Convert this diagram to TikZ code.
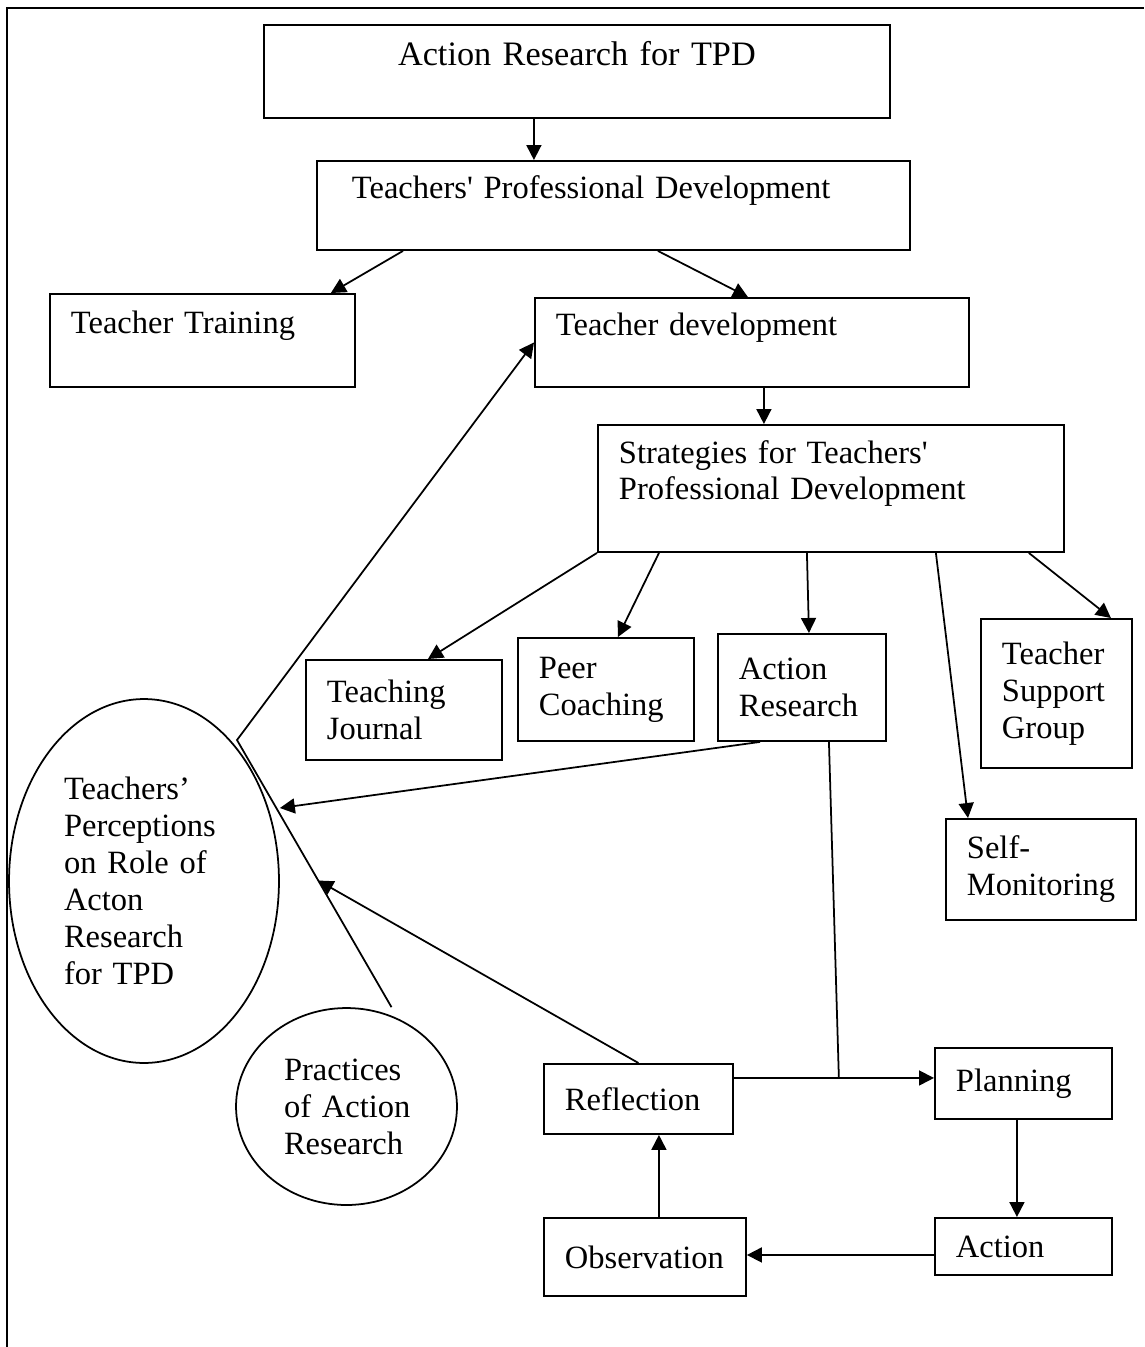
\documentclass[tikz,border=0pt]{standalone}
\usepackage{fontspec}
\setmainfont{Liberation Serif}
\usepackage{tikz}
\usetikzlibrary{arrows.meta,positioning,calc,shapes.geometric}
\newcommand{\bodyfont}{\fontsize{18.5}{21}\selectfont}
\newcommand{\ttlfont}{\fontsize{19.5}{21}\selectfont}
\hyphenpenalty=10000

\begin{document}
\begin{tikzpicture}[
    x=0.02cm,y=-0.02cm,
    font=\bodyfont,
    bx/.style={draw,line width=1.1pt,anchor=north west,align=left,
               inner xsep=0.42cm,inner ysep=0pt},
    ell/.style={draw,ellipse,line width=1pt,align=left,inner sep=0pt},
    arr/.style={-{Triangle[length=0.3cm,width=0.3cm]},line width=1pt},
    ln/.style={line width=1pt}
  ]
    \useasboundingbox (0,0) rectangle (1144,1347);
    \draw[ln] (7,1347) -- (7,8) -- (1144,8);

    % Top of the hierarchy
    \node[bx,align=center,text width=11.68cm,minimum height=1.86cm,font=\ttlfont]
      (artpd) at (263,24) {Action Research for TPD\\\mbox{}};
    \node[bx,inner xsep=0.7cm,text width=10.46cm,minimum height=1.78cm]
      (tpd) at (316,160) {Teachers\textquotesingle{} Professional Development\\\mbox{}};
    \node[bx,text width=5.26cm,minimum height=1.86cm]
      (tt) at (49,293) {Teacher Training\\\mbox{}};
    \node[bx,text width=7.84cm,minimum height=1.78cm]
      (td) at (534,297) {Teacher development\\\mbox{}};
    \node[bx,text width=8.48cm,minimum height=2.54cm]
      (strat) at (597,424) {Strategies for Teachers\textquotesingle\\Professional Development\\\mbox{}};

    % Strategies
    \node[bx,text width=3.08cm,minimum height=2cm]
      (tj) at (305,659) {Teaching\\Journal};
    \node[bx,text width=2.68cm,minimum height=2.06cm]
      (pc) at (517,637) {Peer\\Coaching};
    \node[bx,text width=2.52cm,minimum height=2.14cm]
      (ar) at (717,633) {Action\\Research};
    \node[bx,text width=2.18cm,minimum height=2.98cm]
      (tsg) at (980,618) {Teacher\\Support\\Group};
    \node[bx,text width=2.96cm,minimum height=2.02cm]
      (sm) at (945,818) {Self-\\Monitoring};

    % Ellipses
    \node[ell,minimum width=5.4cm,minimum height=7.28cm,text width=3.2cm]
      (pe) at (144,881) {Teachers'\\Perceptions\\on Role of\\Acton\\Research\\for TPD};
    \node[ell,minimum width=4.42cm,minimum height=3.94cm,text width=2.5cm]
      (prac) at (346.5,1106.5) {Practices\\\mbox{of Action}\\Research};

    % Action research cycle
    \node[bx,text width=2.94cm,minimum height=1.4cm]
      (refl) at (543,1063) {Reflection};
    \node[bx,text width=2.7cm,minimum height=1.42cm]
      (plan) at (934,1047) {Planning};
    \node[bx,text width=3.2cm,minimum height=1.56cm]
      (obs) at (543,1217) {Observation};
    \node[bx,text width=2.7cm,minimum height=1.14cm]
      (act) at (934,1217) {Action};

    % Arrows
    \draw[arr] ([xshift=-0.86cm]artpd.south) -- ([xshift=-0.86cm]artpd.south |- tpd.north);
    \draw[arr] ([xshift=1.74cm]tpd.south west) -- ([xshift=-0.5cm]tt.north east);
    \draw[arr] ([xshift=0.89cm]tpd.south) -- ([xshift=-0.08cm]td.north);
    \draw[arr] ([xshift=0.24cm]td.south) -- ([xshift=0.24cm]td.south |- strat.north);
    \draw[arr] (strat.south west) -- ([xshift=0.48cm]tj.north);
    \draw[arr] ([xshift=1.24cm]strat.south west) -- ([xshift=0.24cm]pc.north);
    \draw[arr] ([xshift=-0.48cm]strat.south) -- ([xshift=0.14cm]ar.north);
    \draw[arr] ([xshift=2.1cm]strat.south) -- ([xshift=0.46cm]sm.north west);
    \draw[arr] ([xshift=-0.72cm]strat.south east) -- ([xshift=-0.44cm]tsg.north east);
    \draw[arr] ([xshift=0.86cm]ar.south west) -- ([yshift=1.46cm]pe.east);

    % Practices feeding teacher development
    \coordinate (prtop) at ([xshift=0.9cm]prac.north);
    \coordinate (kink) at (237,740);
    \draw[arr] (prtop) -- (kink) -- (td.west);
    \draw[arr] (refl.north) -- ($(prtop)!0.474!(kink)$);

    % Cycle
    \coordinate (rp) at ([yshift=0.42cm]refl.east);
    \draw[arr] (rp) -- (rp -| plan.west);
    \draw[ln] ([xshift=0.54cm]ar.south) -- ([xshift=2.1cm]rp);
    \draw[arr] ([xshift=-0.13cm]plan.south) -- ([xshift=-0.13cm]act.north);
    \draw[arr] ([yshift=-0.17cm]act.west) -- ([yshift=0.04cm]obs.east);
    \draw[arr] ([xshift=0.28cm]obs.north) -- ([xshift=0.41cm]refl.south);

  \end{tikzpicture}
\end{document}
